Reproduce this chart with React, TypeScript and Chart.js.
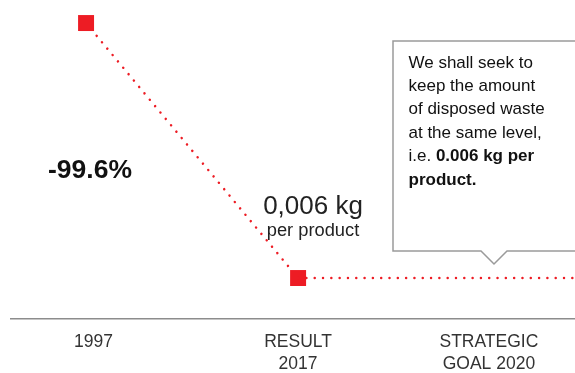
import React, { useEffect, useRef } from 'react';
import { Chart, registerables } from 'chart.js';

Chart.register(...registerables);

// ---- data ----
const CATEGORIES: string[][] = [['1997'], ['RESULT', '2017'], ['STRATEGIC', 'GOAL 2020']];
const ACTUAL_INDEX = [0, 1];
const WASTE_KG_PER_PRODUCT = [1.5, 0.006]; // 1997, 2017
const GOAL_INDEX = 2;
const GOAL_KG_PER_PRODUCT = 0.006; // strategic goal 2020
const CHANGE_TEXT = '-99.6%';
const RESULT_TEXT = ['0,006 kg', 'per product'];
const CALLOUT_LINES: { t: string; b: boolean }[][] = [
  [{ t: 'We shall seek to', b: false }],
  [{ t: 'keep the amount', b: false }],
  [{ t: 'of disposed waste', b: false }],
  [{ t: 'at the same level,', b: false }],
  [{ t: 'i.e. ', b: false }, { t: '0.006 kg per', b: true }],
  [{ t: 'product.', b: true }],
];

const RED = '#ed1c24';
const FONT = '"Liberation Sans", Arial, Helvetica, sans-serif';
const X_MIN = -0.354;
const X_MAX = 2.306;

const annotations = {
  id: 'annotations',
  afterDraw(chart: any) {
    const ctx = chart.ctx as CanvasRenderingContext2D;
    ctx.save();
    // change label
    ctx.fillStyle = '#111';
    ctx.font = `bold 26.5px ${FONT}`;
    ctx.textAlign = 'center';
    ctx.textBaseline = 'alphabetic';
    ctx.fillText(CHANGE_TEXT, 90, 178);
    // result label
    ctx.fillStyle = '#222';
    ctx.font = `26px ${FONT}`;
    ctx.fillText(RESULT_TEXT[0], 313, 213.5);
    ctx.font = `18.3px ${FONT}`;
    ctx.fillText(RESULT_TEXT[1], 313, 236);
    // callout box
    ctx.strokeStyle = '#9a9a9a';
    ctx.lineWidth = 1.5;
    ctx.fillStyle = '#fff';
    ctx.beginPath();
    ctx.moveTo(600, 41);
    ctx.lineTo(393, 41);
    ctx.lineTo(393, 251);
    ctx.lineTo(481, 251);
    ctx.lineTo(494, 264);
    ctx.lineTo(507, 251);
    ctx.lineTo(600, 251);
    ctx.fill();
    ctx.stroke();
    // callout text
    ctx.textAlign = 'left';
    ctx.fillStyle = '#111';
    CALLOUT_LINES.forEach((line, i) => {
      let x = 408.5;
      const y = 67.5 + i * 23.4;
      line.forEach((seg) => {
        ctx.font = `${seg.b ? 'bold ' : ''}17px ${FONT}`;
        ctx.fillText(seg.t, x, y);
        x += ctx.measureText(seg.t).width;
      });
    });
    ctx.restore();
  },
};

export default function App() {
  const ref = useRef<HTMLCanvasElement>(null);
  useEffect(() => {
    document.body.style.margin = '0';
    const actual = ACTUAL_INDEX.map((x, i) => ({ x, y: WASTE_KG_PER_PRODUCT[i] }));
    const goal = [
      { x: ACTUAL_INDEX[1], y: WASTE_KG_PER_PRODUCT[1] },
      { x: GOAL_INDEX, y: GOAL_KG_PER_PRODUCT },
      { x: X_MAX, y: GOAL_KG_PER_PRODUCT },
    ];
    const chart = new Chart(ref.current!, {
      type: 'line',
      data: {
        datasets: [
          {
            data: goal,
            borderColor: RED,
            borderWidth: 2.5,
            borderDash: [0.01, 8.3],
            borderCapStyle: 'round',
            pointRadius: 0,
            tension: 0,
          },
          {
            data: actual,
            borderColor: RED,
            borderWidth: 2.5,
            borderDash: [0.01, 8.3],
            borderCapStyle: 'round',
            pointStyle: 'rect',
            pointRadius: 11.3,
            pointBorderWidth: 0,
            pointBackgroundColor: RED,
            pointBorderColor: RED,
            tension: 0,
          },
        ],
      },
      options: {
        responsive: false,
        animation: false,
        devicePixelRatio: 1,
        layout: { autoPadding: false, padding: { left: 11, right: 0, top: 0, bottom: 0 } },
        plugins: { legend: { display: false }, tooltip: { enabled: false } },
        scales: {
          x: {
            type: 'linear',
            min: X_MIN,
            max: X_MAX,
            grid: { display: false, drawTicks: false },
            border: { display: true, color: '#8c8c8c', width: 1.5 },
            afterBuildTicks: (scale: any) => {
              const at = [0.035, 1, 1.9];
              scale.ticks = at.map((value) => ({ value }));
            },
            afterFit: (scale: any) => {
              scale.height = 54;
              scale.paddingLeft = 0;
              scale.paddingRight = 0;
            },
            ticks: {
              autoSkip: false,
              maxRotation: 0,
              padding: 12,
              color: '#333',
              font: { family: FONT, size: 17.5, lineHeight: 22 / 17.5 },
              callback: (_v: any, i: number) => CATEGORIES[i],
            },
          },
          y: {
            display: false,
            min: -0.234,
            max: 1.635,
          },
        },
      },
      plugins: [annotations],
    });
    return () => chart.destroy();
  }, []);
  return (
    <div style={{ position: 'fixed', left: 0, top: 0, width: 575, height: 373, overflow: 'hidden', background: '#fff' }}>
      <canvas ref={ref} width={575} height={373} />
    </div>
  );
}
